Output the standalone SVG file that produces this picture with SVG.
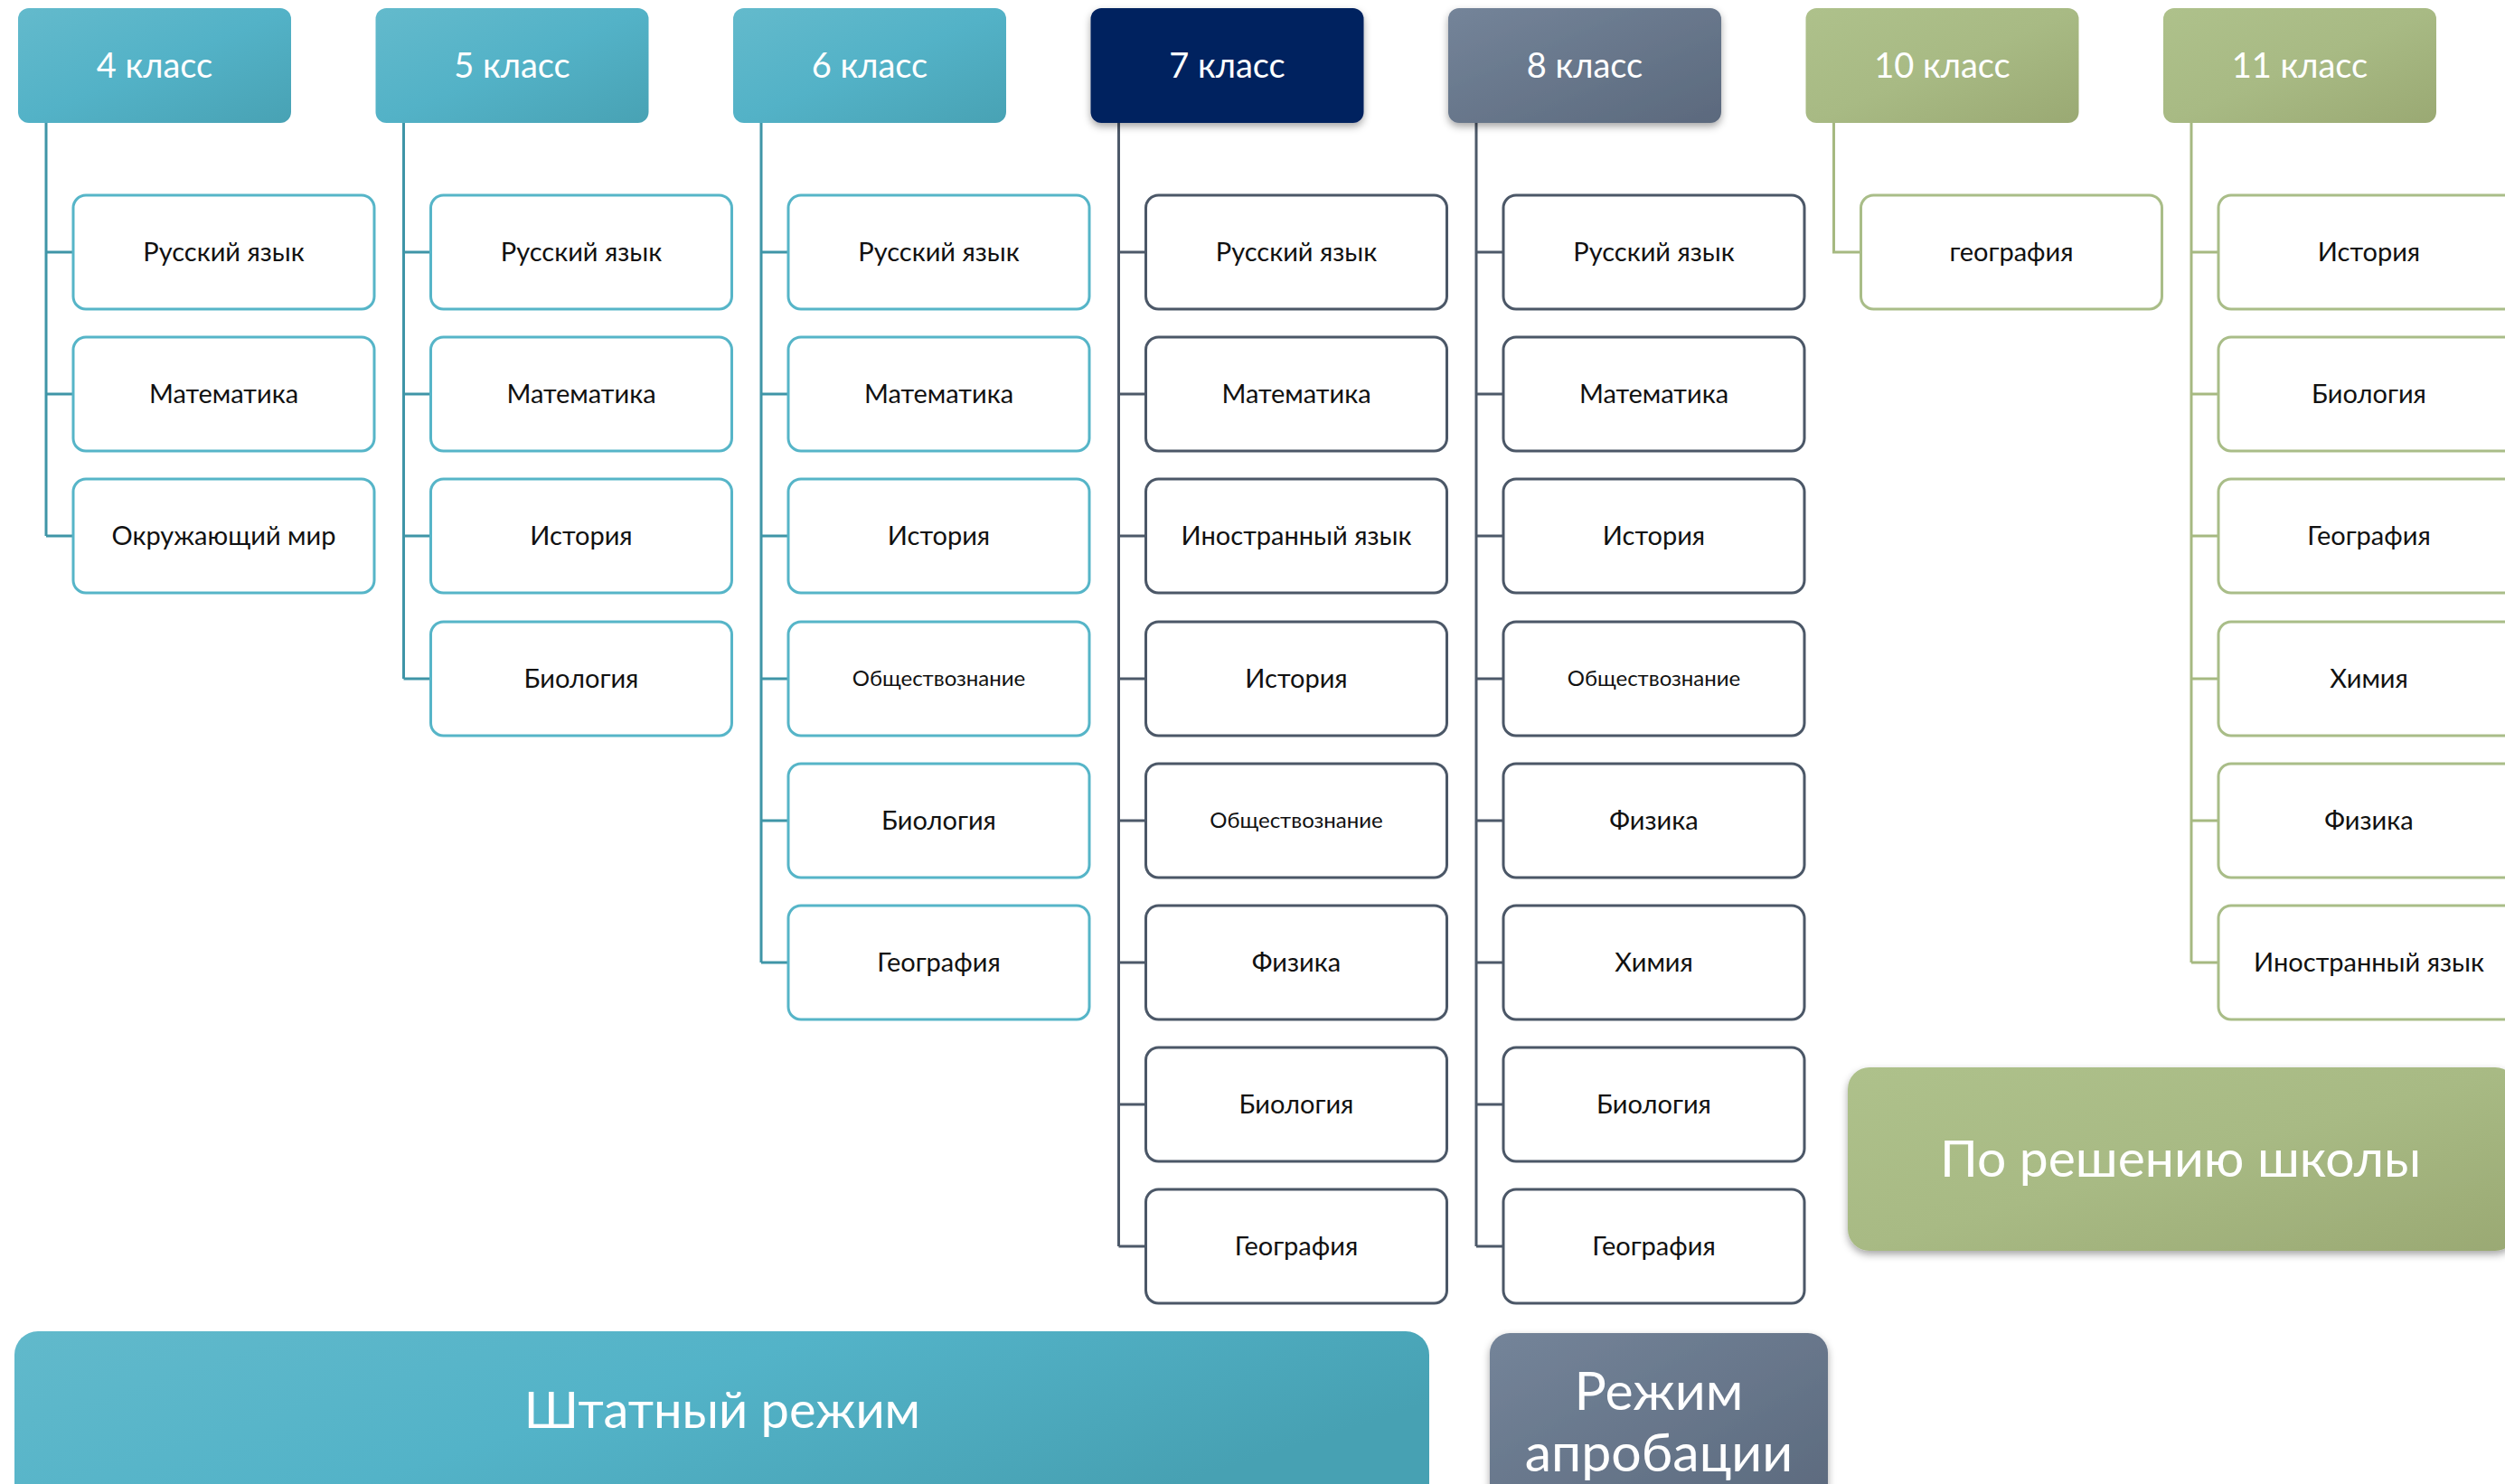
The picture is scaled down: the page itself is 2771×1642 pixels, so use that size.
<svg xmlns="http://www.w3.org/2000/svg" width="2771" height="1642" viewBox="0 0 2771 1642">
<defs>
<linearGradient id="gTeal" x1="0" y1="0" x2="1" y2="1"><stop offset="0" stop-color="#63bacc"/><stop offset="0.5" stop-color="#53b2c7"/><stop offset="1" stop-color="#48a2b4"/></linearGradient>
<linearGradient id="gTealWide" x1="0" y1="0" x2="1" y2="0.4"><stop offset="0" stop-color="#61b9cb"/><stop offset="0.5" stop-color="#53b3c8"/><stop offset="1" stop-color="#47a1b3"/></linearGradient>
<linearGradient id="gGray" x1="0" y1="0" x2="1" y2="1"><stop offset="0" stop-color="#748499"/><stop offset="1" stop-color="#5b697d"/></linearGradient>
<linearGradient id="gGreen" x1="0" y1="0" x2="1" y2="1"><stop offset="0" stop-color="#aec18b"/><stop offset="0.5" stop-color="#a8ba84"/><stop offset="1" stop-color="#9aa973"/></linearGradient>
<filter id="sh" x="-10%" y="-10%" width="125%" height="130%"><feDropShadow dx="0" dy="4" stdDeviation="4" flood-color="#000" flood-opacity="0.35"/></filter>
</defs>
<style>
.hd{font-family:Lato,"Open Sans","Noto Sans",sans-serif;font-size:38px;fill:#fff;text-anchor:middle}
.ch{font-family:Lato,"Open Sans","Noto Sans",sans-serif;font-size:29px;fill:#111;text-anchor:middle}
.sm{font-size:24px}
.big{font-family:Lato,"Open Sans","Noto Sans",sans-serif;font-size:57px;fill:#fff;text-anchor:middle}
.bt{fill:#fff;stroke:#56b5c8;stroke-width:3}
.bd{fill:#fff;stroke:#4b5767;stroke-width:3}
.bg{fill:#fff;stroke:#a9bd88;stroke-width:3}
.lt{stroke:#3f95a7;stroke-width:3;fill:none}
.ld{stroke:#4d5969;stroke-width:3;fill:none}
.lg{stroke:#a6b981;stroke-width:3;fill:none}
</style>
<rect width="2771" height="1642" fill="#fff"/>

<g id="connectors">
<path class="lt" d="M51 136V593M51 279H81M51 436H81M51 593H81"/>
<path class="lt" d="M446.5 136V751M446.5 279H476.5M446.5 436H476.5M446.5 593H476.5M446.5 751H476.5"/>
<path class="lt" d="M842 136V1065M842 279H872M842 436H872M842 593H872M842 751H872M842 908H872M842 1065H872"/>
<path class="ld" d="M1237.5 136V1379M1237.5 279H1267.5M1237.5 436H1267.5M1237.5 593H1267.5M1237.5 751H1267.5M1237.5 908H1267.5M1237.5 1065H1267.5M1237.5 1222H1267.5M1237.5 1379H1267.5"/>
<path class="ld" d="M1633 136V1379M1633 279H1663M1633 436H1663M1633 593H1663M1633 751H1663M1633 908H1663M1633 1065H1663M1633 1222H1663M1633 1379H1663"/>
<path class="lg" d="M2028.5 136V279H2058.5"/>
<path class="lg" d="M2424 136V1065M2424 279H2454M2424 436H2454M2424 593H2454M2424 751H2454M2424 908H2454M2424 1065H2454"/>
</g>

<g id="col4">
<g id="h4"><rect x="20" y="9" width="302" height="127" rx="12" fill="url(#gTeal)"/><text class="hd" x="171" y="86">4 класс</text></g>
<g id="c4-1"><rect class="bt" x="81" y="216" width="333" height="126" rx="14"/><text class="ch" x="247.5" y="289">Русский язык</text></g>
<g id="c4-2"><rect class="bt" x="81" y="373" width="333" height="126" rx="14"/><text class="ch" x="247.5" y="446">Математика</text></g>
<g id="c4-3"><rect class="bt" x="81" y="530" width="333" height="126" rx="14"/><text class="ch" x="247.5" y="603">Окружающий мир</text></g>
</g>

<g id="col5">
<g id="h5"><rect x="415.5" y="9" width="302" height="127" rx="12" fill="url(#gTeal)"/><text class="hd" x="566.5" y="86">5 класс</text></g>
<g id="c5-1"><rect class="bt" x="476.5" y="216" width="333" height="126" rx="14"/><text class="ch" x="643" y="289">Русский язык</text></g>
<g id="c5-2"><rect class="bt" x="476.5" y="373" width="333" height="126" rx="14"/><text class="ch" x="643" y="446">Математика</text></g>
<g id="c5-3"><rect class="bt" x="476.5" y="530" width="333" height="126" rx="14"/><text class="ch" x="643" y="603">История</text></g>
<g id="c5-4"><rect class="bt" x="476.5" y="688" width="333" height="126" rx="14"/><text class="ch" x="643" y="761">Биология</text></g>
</g>

<g id="col6">
<g id="h6"><rect x="811" y="9" width="302" height="127" rx="12" fill="url(#gTeal)"/><text class="hd" x="962" y="86">6 класс</text></g>
<g id="c6-1"><rect class="bt" x="872" y="216" width="333" height="126" rx="14"/><text class="ch" x="1038.5" y="289">Русский язык</text></g>
<g id="c6-2"><rect class="bt" x="872" y="373" width="333" height="126" rx="14"/><text class="ch" x="1038.5" y="446">Математика</text></g>
<g id="c6-3"><rect class="bt" x="872" y="530" width="333" height="126" rx="14"/><text class="ch" x="1038.5" y="603">История</text></g>
<g id="c6-4"><rect class="bt" x="872" y="688" width="333" height="126" rx="14"/><text class="ch sm" x="1038.5" y="759">Обществознание</text></g>
<g id="c6-5"><rect class="bt" x="872" y="845" width="333" height="126" rx="14"/><text class="ch" x="1038.5" y="918">Биология</text></g>
<g id="c6-6"><rect class="bt" x="872" y="1002" width="333" height="126" rx="14"/><text class="ch" x="1038.5" y="1075">География</text></g>
</g>

<g id="col7">
<g id="h7"><rect x="1206.5" y="9" width="302" height="127" rx="12" fill="#03205f" filter="url(#sh)"/><text class="hd" x="1357.5" y="86">7 класс</text></g>
<g id="c7-1"><rect class="bd" x="1267.5" y="216" width="333" height="126" rx="14"/><text class="ch" x="1434" y="289">Русский язык</text></g>
<g id="c7-2"><rect class="bd" x="1267.5" y="373" width="333" height="126" rx="14"/><text class="ch" x="1434" y="446">Математика</text></g>
<g id="c7-3"><rect class="bd" x="1267.5" y="530" width="333" height="126" rx="14"/><text class="ch" x="1434" y="603">Иностранный язык</text></g>
<g id="c7-4"><rect class="bd" x="1267.5" y="688" width="333" height="126" rx="14"/><text class="ch" x="1434" y="761">История</text></g>
<g id="c7-5"><rect class="bd" x="1267.5" y="845" width="333" height="126" rx="14"/><text class="ch sm" x="1434" y="916">Обществознание</text></g>
<g id="c7-6"><rect class="bd" x="1267.5" y="1002" width="333" height="126" rx="14"/><text class="ch" x="1434" y="1075">Физика</text></g>
<g id="c7-7"><rect class="bd" x="1267.5" y="1159" width="333" height="126" rx="14"/><text class="ch" x="1434" y="1232">Биология</text></g>
<g id="c7-8"><rect class="bd" x="1267.5" y="1316" width="333" height="126" rx="14"/><text class="ch" x="1434" y="1389">География</text></g>
</g>

<g id="col8">
<g id="h8"><rect x="1602" y="9" width="302" height="127" rx="12" fill="url(#gGray)" filter="url(#sh)"/><text class="hd" x="1753" y="86">8 класс</text></g>
<g id="c8-1"><rect class="bd" x="1663" y="216" width="333" height="126" rx="14"/><text class="ch" x="1829.5" y="289">Русский язык</text></g>
<g id="c8-2"><rect class="bd" x="1663" y="373" width="333" height="126" rx="14"/><text class="ch" x="1829.5" y="446">Математика</text></g>
<g id="c8-3"><rect class="bd" x="1663" y="530" width="333" height="126" rx="14"/><text class="ch" x="1829.5" y="603">История</text></g>
<g id="c8-4"><rect class="bd" x="1663" y="688" width="333" height="126" rx="14"/><text class="ch sm" x="1829.5" y="759">Обществознание</text></g>
<g id="c8-5"><rect class="bd" x="1663" y="845" width="333" height="126" rx="14"/><text class="ch" x="1829.5" y="918">Физика</text></g>
<g id="c8-6"><rect class="bd" x="1663" y="1002" width="333" height="126" rx="14"/><text class="ch" x="1829.5" y="1075">Химия</text></g>
<g id="c8-7"><rect class="bd" x="1663" y="1159" width="333" height="126" rx="14"/><text class="ch" x="1829.5" y="1232">Биология</text></g>
<g id="c8-8"><rect class="bd" x="1663" y="1316" width="333" height="126" rx="14"/><text class="ch" x="1829.5" y="1389">География</text></g>
</g>

<g id="col10">
<g id="h10"><rect x="1997.5" y="9" width="302" height="127" rx="12" fill="url(#gGreen)"/><text class="hd" x="2148.5" y="86">10 класс</text></g>
<g id="c10-1"><rect class="bg" x="2058.5" y="216" width="333" height="126" rx="14"/><text class="ch" x="2225" y="289">география</text></g>
</g>

<g id="col11">
<g id="h11"><rect x="2393" y="9" width="302" height="127" rx="12" fill="url(#gGreen)"/><text class="hd" x="2544" y="86">11 класс</text></g>
<g id="c11-1"><rect class="bg" x="2454" y="216" width="333" height="126" rx="14"/><text class="ch" x="2620.5" y="289">История</text></g>
<g id="c11-2"><rect class="bg" x="2454" y="373" width="333" height="126" rx="14"/><text class="ch" x="2620.5" y="446">Биология</text></g>
<g id="c11-3"><rect class="bg" x="2454" y="530" width="333" height="126" rx="14"/><text class="ch" x="2620.5" y="603">География</text></g>
<g id="c11-4"><rect class="bg" x="2454" y="688" width="333" height="126" rx="14"/><text class="ch" x="2620.5" y="761">Химия</text></g>
<g id="c11-5"><rect class="bg" x="2454" y="845" width="333" height="126" rx="14"/><text class="ch" x="2620.5" y="918">Физика</text></g>
<g id="c11-6"><rect class="bg" x="2454" y="1002" width="333" height="126" rx="14"/><text class="ch" x="2620.5" y="1075">Иностранный язык</text></g>
</g>

<g id="school">
<rect x="2044" y="1181" width="740" height="203" rx="24" fill="url(#gGreen)" filter="url(#sh)"/>
<text class="big" x="2412" y="1302">По решению школы</text>
</g>

<g id="standard">
<rect x="16" y="1473" width="1565" height="200" rx="26" fill="url(#gTealWide)"/>
<text class="big" x="799" y="1580" style="font-size:56px">Штатный режим</text>
</g>

<g id="pilot">
<rect x="1648" y="1475" width="374" height="200" rx="22" fill="url(#gGray)" filter="url(#sh)"/>
<text class="big" x="1835" y="1560" style="font-size:59px">Режим</text>
<text class="big" x="1835" y="1628" style="font-size:59px">апробации</text>
</g>
</svg>
